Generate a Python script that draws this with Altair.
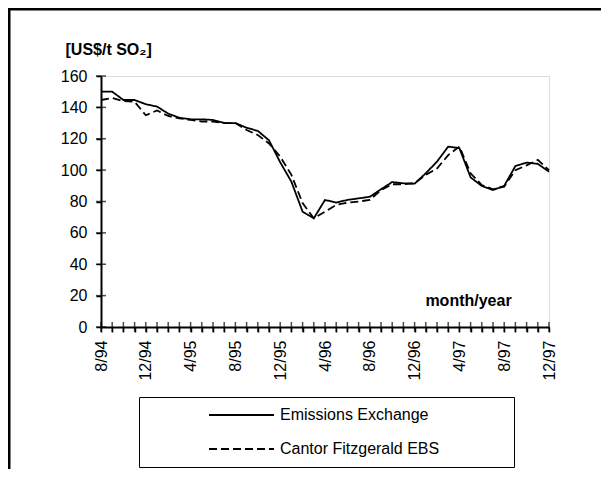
import altair as alt
import pandas as pd

months = ["8/94", "9/94", "10/94", "11/94", "12/94", "1/95", "2/95", "3/95", "4/95", "5/95",
          "6/95", "7/95", "8/95", "9/95", "10/95", "11/95", "12/95", "1/96", "2/96", "3/96",
          "4/96", "5/96", "6/96", "7/96", "8/96", "9/96", "10/96", "11/96", "12/96", "1/97",
          "2/97", "3/97", "4/97", "5/97", "6/97", "7/97", "8/97", "9/97", "10/97", "11/97", "12/97"]

tick_labels = ["8/94", "12/94", "4/95", "8/95", "12/95", "4/96", "8/96", "12/96", "4/97", "8/97", "12/97"]

emissions_exchange = [150, 150, 144.7, 144.7, 142, 140.5, 136, 133.4, 132.4, 132.4,
                      132, 130, 130, 127, 125, 119, 105, 92.6, 73.5, 69.3,
                      81, 79.3, 81, 82, 83, 87.8, 92.4, 91.6, 91.4, 98,
                      105.4, 115, 114, 95.4, 89.9, 87.3, 90, 102.6, 104.8, 104, 99]

cantor_fitzgerald = [144.7, 146, 144, 143.6, 135, 138, 134.5, 133, 132, 131,
                     131, 130, 130, 125.6, 122.4, 117, 108.6, 97, 79, 69.3,
                     73.5, 77.8, 79.3, 80, 81, 87.3, 91, 91, 91.6, 97,
                     101, 109.6, 115, 98, 90.5, 87.8, 89.5, 100, 103, 106.5, 100]

series_names = ["Emissions Exchange", "Cantor Fitzgerald EBS"]
y_ticks = [0, 20, 40, 60, 80, 100, 120, 140, 160]

FONT = "Liberation Sans"

df = pd.concat([
    pd.DataFrame({"month": months, "series": series_names[0], "value": emissions_exchange}),
    pd.DataFrame({"month": months, "series": series_names[1], "value": cantor_fitzgerald}),
])

label_list = ",".join("'" + t + "'" for t in tick_labels)
# non-breaking spaces closed by a zero-width char (so they are not trimmed) widen the legend box
pad_right = "\u00a0" * 15 + "\u200b"

x_axis = alt.Axis(
    labelAngle=270, labelOverlap=False, labelPadding=8,
    labelExpr=f"indexof([{label_list}], datum.value) >= 0 ? datum.value : ''",
    labelFont=FONT, labelFontSize=16, labelColor="black",
    domainColor="black", domainWidth=2,
    tickColor="black", tickWidth=1.5, tickSize=5,
    grid=False,
    title="month/year", titleFont=FONT, titleFontSize=16, titleFontWeight="bold",
    titleColor="black", titleX=367, titleY=-22, titleAlign="center",
    titleBaseline="alphabetic", titleAngle=0)

y_axis = alt.Axis(
    values=y_ticks, labelOverlap=False, labelFont=FONT, labelFontSize=16,
    labelColor="black", labelPadding=9, domainColor="black", domainWidth=2,
    tickColor="black", tickWidth=1.5, tickSize=5, grid=False,
    title="[US$/t SO₂]", titleFont=FONT, titleFontSize=16,
    titleFontWeight="bold", titleColor="black", titleAngle=0,
    titleX=-36, titleY=-22, titleAlign="left", titleBaseline="alphabetic")

x_scale = alt.Scale(type="point", padding=0)
y_scale = alt.Scale(domain=[0, 160], nice=False, zero=True)

lines = alt.Chart(df).mark_line(color="black", strokeWidth=1.8).encode(
    x=alt.X("month:O", sort=months, scale=x_scale, axis=x_axis),
    y=alt.Y("value:Q", scale=y_scale, axis=y_axis),
    strokeDash=alt.StrokeDash(
        "series:N",
        scale=alt.Scale(domain=series_names, range=[[1, 0], [8, 4]]),
        legend=alt.Legend(
            title=None, orient="none", legendX=38, legendY=321,
            strokeColor="black", fillColor="white", padding=8,
            symbolType="stroke", symbolSize=4225, symbolStrokeWidth=1.8,
            symbolStrokeColor="black", symbolOffset=61, clipHeight=20,
            rowPadding=14, labelOffset=5, labelFont=FONT, labelFontSize=16,
            labelColor="black", labelLimit=600,
            labelExpr="datum.label + '" + pad_right + "'")),
    order=alt.Order("month_idx:Q"),
).transform_calculate(
    month_idx=f"indexof([{','.join(repr(m) for m in months)}], datum.month)"
)

x_ticks = alt.Chart(pd.DataFrame({"month": months})).mark_tick(
    orient="vertical", size=10, thickness=1.5, color="black"
).encode(
    x=alt.X("month:O", sort=months, scale=x_scale, axis=x_axis),
    y=alt.Y(datum=0, type="quantitative", scale=y_scale, axis=y_axis),
)

y_tick_marks = alt.Chart(pd.DataFrame({"tick": y_ticks})).mark_tick(
    orient="horizontal", size=10, thickness=1.5, color="black"
).encode(
    y=alt.Y("tick:Q", scale=y_scale, axis=y_axis),
    x=alt.X(datum=months[0], type="ordinal", scale=x_scale, axis=x_axis),
)

frame = alt.Chart(pd.DataFrame({"f": [0]})).mark_rect(
    fillOpacity=0, stroke="black", strokeWidth=3
).encode(
    x=alt.value(-92), x2=alt.value(520), y=alt.value(-67), y2=alt.value(420)
)

chart = alt.layer(lines, x_ticks, y_tick_marks, frame).properties(
    width=448, height=251,
    autosize=alt.AutoSizeParams(type="none"),
    padding={"left": 93, "top": 68, "right": 52, "bottom": 142},
).configure_view(
    stroke="black", strokeWidth=1.5
).configure(background="white")

chart.save("out.html", embed_options={"renderer": "svg", "actions": False})
